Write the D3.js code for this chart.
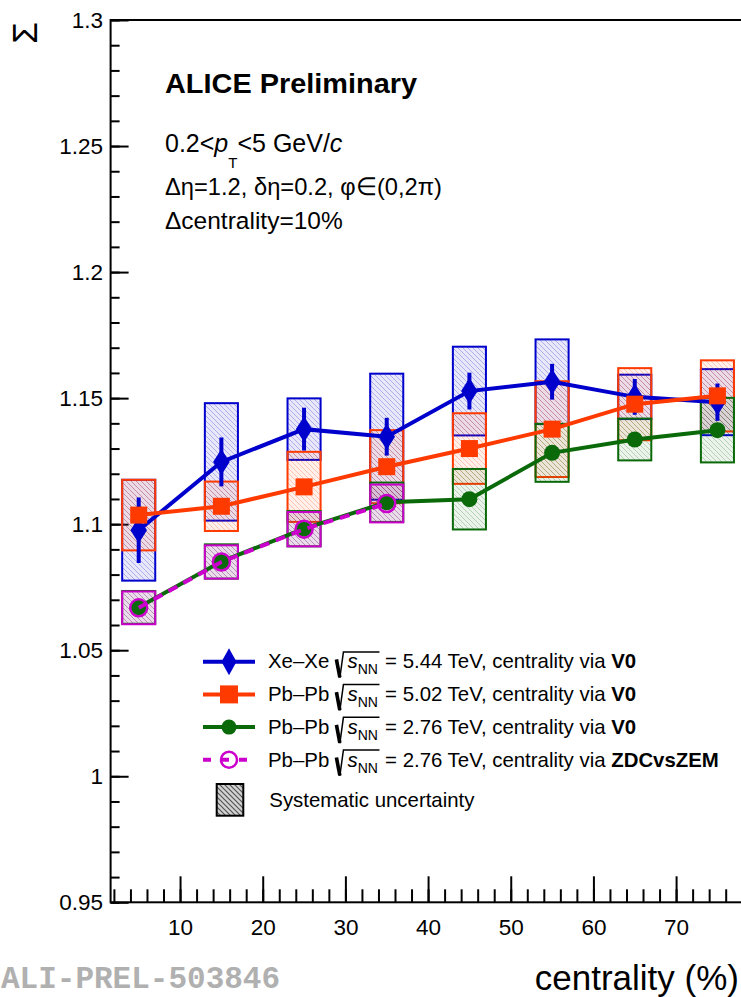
<!DOCTYPE html>
<html>
<head>
<meta charset="utf-8">
<script src="https://cdn.jsdelivr.net/npm/d3@7"></script>
<style>
  html, body { margin: 0; padding: 0; background: #fff; }
  svg { display: block; }
  text { font-family: "Liberation Sans", Arial, Helvetica, sans-serif; fill: #000; white-space: pre; }
</style>
</head>
<body>
<svg id="chart" width="741" height="997"></svg>
<script>
// Centrality bin centres (%)
const centrality = [5, 15, 25, 35, 45, 55, 65, 75];
const centralityZdc = [5, 15, 25, 35];

// Xe-Xe 5.44 TeV, V0 centrality
const xexeV0 = [1.0976, 1.1247, 1.1377, 1.1347, 1.1528, 1.1565, 1.1505, 1.1484];
const xexeV0Stat = [0.0130, 0.0097, 0.0085, 0.0075, 0.0073, 0.0071, 0.0071, 0.0074];
const xexeV0Sys = [0.0200, 0.0233, 0.0122, 0.0250, 0.0176, 0.0168, 0.0088, 0.0131];

// Pb-Pb 5.02 TeV, V0 centrality
const pbpb502V0 = [1.1036, 1.1071, 1.1148, 1.1228, 1.1300, 1.1377, 1.1476, 1.1509];
const pbpb502V0Sys = [0.0140, 0.0098, 0.0139, 0.0145, 0.0140, 0.0190, 0.0143, 0.0141];

// Pb-Pb 2.76 TeV, V0 centrality
const pbpb276V0 = [1.0670, 1.0852, 1.0982, 1.1087, 1.1099, 1.1283, 1.1336, 1.1373];
const pbpb276V0Sys = [0.0065, 0.0068, 0.0070, 0.0078, 0.0120, 0.0115, 0.0083, 0.0128];

// Pb-Pb 2.76 TeV, ZDC vs ZEM centrality
const pbpb276Zdc = [1.0668, 1.0850, 1.0980, 1.1082];
const pbpb276ZdcSys = [0.0065, 0.0066, 0.0068, 0.0075];

// Axis ticks
const yMajorTicks = [0.95, 1.0, 1.05, 1.1, 1.15, 1.2, 1.25, 1.3];
const yTickLabels = ["0.95", "1", "1.05", "1.1", "1.15", "1.2", "1.25", "1.3"];
const xMajorTicks = [10, 20, 30, 40, 50, 60, 70];
const xTickLabels = ["10", "20", "30", "40", "50", "60", "70"];

const colors = {
  xexe: "#0000cc",
  pb502: "#ff3a00",
  pb276: "#0a6a0a",
  zdc: "#cc00cc"
};

const svg = d3.select("#chart");
const frame = { left: 110.6, top: 20, bottom: 902.3, right: 762.9 };

const x = d3.scaleLinear().domain([1.6, 80.5]).range([frame.left, frame.right]);
const y = d3.scaleLinear().domain([0.95, 1.3]).range([frame.bottom, frame.top]);

// Hatch patterns for systematic boxes
const defs = svg.append("defs");
function hatch(id, color, bgOpacity, lineOpacity, lineWidth) {
  const p = defs.append("pattern")
    .attr("id", id).attr("patternUnits", "userSpaceOnUse")
    .attr("width", 5).attr("height", 5);
  p.append("rect").attr("width", 5).attr("height", 5)
    .attr("fill", color).attr("fill-opacity", bgOpacity);
  p.append("path").attr("d", "M0,0 L5,5 M-1,4 L1,6 M4,-1 L6,1")
    .attr("stroke", color).attr("stroke-opacity", lineOpacity)
    .attr("stroke-width", lineWidth);
}
hatch("h-xexe", colors.xexe, 0.09, 0.25, 1);
hatch("h-pb502", colors.pb502, 0.08, 0.25, 1);
hatch("h-pb276", colors.pb276, 0.08, 0.25, 1);
hatch("h-zdc", colors.zdc, 0.09, 0.25, 1);
hatch("h-grey", "#333", 0.22, 0.8, 1.2);

// Axes: ticks inside the frame
const axisG = svg.append("g");
const yMinor = d3.range(95, 131).map(v => v / 100);
const xMinor = d3.range(2, 81, 2);

axisG.append("g").attr("transform", `translate(${frame.left},0)`)
  .call(d3.axisLeft(y).tickValues(yMinor).tickSize(-9).tickFormat(""))
  .call(g => g.select(".domain").remove());
axisG.append("g").attr("transform", `translate(${frame.left},0)`)
  .call(d3.axisLeft(y).tickValues(yMajorTicks).tickSize(-18).tickPadding(7.5)
    .tickFormat((d, i) => yTickLabels[i]))
  .call(g => g.select(".domain").remove());
axisG.append("g").attr("transform", `translate(0,${frame.bottom})`)
  .call(d3.axisBottom(x).tickValues(xMinor).tickSize(-13).tickFormat(""))
  .call(g => g.select(".domain").remove());
axisG.append("g").attr("transform", `translate(0,${frame.bottom})`)
  .call(d3.axisBottom(x).tickValues(xMajorTicks).tickSize(-26).tickPadding(17)
    .tickFormat((d, i) => xTickLabels[i]))
  .call(g => g.select(".domain").remove());
axisG.append("line").attr("x1", x(80)).attr("x2", x(80))
  .attr("y1", frame.bottom).attr("y2", frame.bottom - 26);
axisG.selectAll("line").attr("stroke", "#000").attr("stroke-width", 2);
axisG.selectAll(".tick text")
  .style("font-family", '"Liberation Sans", Arial, sans-serif')
  .style("font-size", "22.5px").attr("fill", "#000");

// Systematic uncertainty boxes (±2 in centrality)
const plot = svg.append("g");
function sysBoxes(xs, vals, sys, color, pat) {
  plot.append("g").selectAll("rect").data(vals).join("rect")
    .attr("x", (d, i) => x(xs[i] - 2))
    .attr("width", (d, i) => x(xs[i] + 2) - x(xs[i] - 2))
    .attr("y", (d, i) => y(d + sys[i]))
    .attr("height", (d, i) => y(d - sys[i]) - y(d + sys[i]))
    .attr("fill", `url(#${pat})`)
    .attr("stroke", color).attr("stroke-width", 2);
}
sysBoxes(centrality, xexeV0, xexeV0Sys, colors.xexe, "h-xexe");
sysBoxes(centrality, pbpb502V0, pbpb502V0Sys, colors.pb502, "h-pb502");
sysBoxes(centrality, pbpb276V0, pbpb276V0Sys, colors.pb276, "h-pb276");
sysBoxes(centralityZdc, pbpb276Zdc, pbpb276ZdcSys, colors.zdc, "h-zdc");

const line = (xs) => d3.line().x((d, i) => x(xs[i])).y(d => y(d));
const diamondPath = "M0,-13 L8.3,0 L0,13 L-8.3,0 Z";

// Xe-Xe
plot.append("path").datum(xexeV0).attr("d", line(centrality))
  .attr("fill", "none").attr("stroke", colors.xexe).attr("stroke-width", 4);
plot.append("g").selectAll("line").data(xexeV0).join("line")
  .attr("x1", (d, i) => x(centrality[i])).attr("x2", (d, i) => x(centrality[i]))
  .attr("y1", (d, i) => y(d + xexeV0Stat[i])).attr("y2", (d, i) => y(d - xexeV0Stat[i]))
  .attr("stroke", colors.xexe).attr("stroke-width", 4);
plot.append("g").selectAll("path").data(xexeV0).join("path")
  .attr("d", diamondPath)
  .attr("transform", (d, i) => `translate(${x(centrality[i])},${y(d)})`)
  .attr("fill", colors.xexe);

// Pb-Pb 5.02
plot.append("path").datum(pbpb502V0).attr("d", line(centrality))
  .attr("fill", "none").attr("stroke", colors.pb502).attr("stroke-width", 4);
plot.append("g").selectAll("rect").data(pbpb502V0).join("rect")
  .attr("x", (d, i) => x(centrality[i]) - 8.5).attr("y", d => y(d) - 8.5)
  .attr("width", 17).attr("height", 17).attr("fill", colors.pb502);

// Pb-Pb 2.76 V0
plot.append("path").datum(pbpb276V0).attr("d", line(centrality))
  .attr("fill", "none").attr("stroke", colors.pb276).attr("stroke-width", 4);
plot.append("g").selectAll("circle").data(pbpb276V0).join("circle")
  .attr("cx", (d, i) => x(centrality[i])).attr("cy", d => y(d))
  .attr("r", 8).attr("fill", colors.pb276);

// Pb-Pb 2.76 ZDC vs ZEM
plot.append("path").datum(pbpb276Zdc).attr("d", line(centralityZdc))
  .attr("fill", "none").attr("stroke", colors.zdc).attr("stroke-width", 4)
  .attr("stroke-dasharray", "10,7");
plot.append("g").selectAll("circle").data(pbpb276Zdc).join("circle")
  .attr("cx", (d, i) => x(centralityZdc[i])).attr("cy", d => y(d))
  .attr("r", 8.5).attr("fill", "none").attr("stroke", colors.zdc).attr("stroke-width", 2.5);

// Frame
svg.append("rect")
  .attr("x", frame.left).attr("y", frame.top)
  .attr("width", frame.right - frame.left).attr("height", frame.bottom - frame.top)
  .attr("fill", "none").attr("stroke", "#000").attr("stroke-width", 2);

// Axis titles
svg.append("text").attr("transform", "translate(37,22) rotate(-90)")
  .attr("text-anchor", "end").style("font-size", "35px").text("Σ");
svg.append("text").attr("x", 739).attr("y", 990)
  .attr("text-anchor", "end").style("font-size", "35px").text("centrality (%)");

// Labels
svg.append("text").attr("x", 165).attr("y", 93.3)
  .style("font-size", "28px").style("font-weight", "bold")
  .attr("textLength", 252).attr("lengthAdjust", "spacingAndGlyphs")
  .text("ALICE Preliminary");

const l2 = svg.append("text").attr("x", 165).attr("y", 152).style("font-size", "25px");
l2.append("tspan").text("0.2<");
l2.append("tspan").style("font-style", "italic").text("p");
l2.append("tspan").attr("dy", 16).style("font-size", "15px").text("T");
l2.append("tspan").attr("dy", -16).text("<5 GeV/");
l2.append("tspan").style("font-style", "italic").text("c");

svg.append("text").attr("x", 165).attr("y", 194.5).style("font-size", "24.5px")
  .attr("textLength", 277).attr("lengthAdjust", "spacingAndGlyphs")
  .text("Δη=1.2, δη=0.2, φ∈(0,2π)");
svg.append("text").attr("x", 165).attr("y", 229).style("font-size", "24.5px")
  .text("Δcentrality=10%");

// Legend
const legend = svg.append("g");
const legendEntries = [
  { sys: "Xe–Xe", energy: "5.44", method: "V0", color: colors.xexe, marker: "diamond" },
  { sys: "Pb–Pb", energy: "5.02", method: "V0", color: colors.pb502, marker: "square" },
  { sys: "Pb–Pb", energy: "2.76", method: "V0", color: colors.pb276, marker: "circle" },
  { sys: "Pb–Pb", energy: "2.76", method: "ZDCvsZEM", color: colors.zdc, marker: "open" }
];
const lx0 = 203, lx1 = 255, lmx = 229, ltx = 268;
const lfs = "20.4px";
legendEntries.forEach((e, i) => {
  const cy = 661.7 + i * 32.7;
  const base = cy + 6.7;
  const ln = legend.append("line").attr("x1", lx0).attr("x2", lx1).attr("y1", cy).attr("y2", cy)
    .attr("stroke", e.color).attr("stroke-width", 4);
  if (e.marker === "open") ln.attr("stroke-dasharray", "8,10");
  if (e.marker === "diamond") {
    legend.append("path").attr("d", "M0,-13.5 L7.5,0 L0,13.5 L-7.5,0 Z")
      .attr("transform", `translate(${lmx},${cy})`).attr("fill", e.color);
  } else if (e.marker === "square") {
    legend.append("rect").attr("x", lmx - 9).attr("y", cy - 9).attr("width", 18).attr("height", 18)
      .attr("fill", e.color);
  } else if (e.marker === "circle") {
    legend.append("circle").attr("cx", lmx).attr("cy", cy).attr("r", 7.5).attr("fill", e.color);
  } else {
    legend.append("circle").attr("cx", lmx).attr("cy", cy).attr("r", 8)
      .attr("fill", "none").attr("stroke", e.color).attr("stroke-width", 2.5);
  }
  // "<sys> √s_NN = <E> TeV, centrality via <method>"
  const t1 = legend.append("text").attr("x", ltx).attr("y", base).style("font-size", lfs)
    .text(e.sys);
  const rx = ltx + t1.node().getComputedTextLength() + 6;
  const sx = rx + 12.3;
  const ts = legend.append("text").attr("x", sx).attr("y", base).style("font-size", lfs)
    .style("font-style", "italic").text("s");
  const nx = sx + ts.node().getComputedTextLength();
  const tn = legend.append("text").attr("x", nx).attr("y", base + 6).style("font-size", "14px").text("NN");
  const ox = nx + tn.node().getComputedTextLength() + 1.5;
  legend.append("path")
    .attr("d", `M${rx + 1.2},${base - 9} L${rx + 4.6},${base + 9}`)
    .attr("stroke", "#000").attr("stroke-width", 3.6).attr("fill", "none");
  legend.append("path")
    .attr("d", `M${rx + 4.6},${base + 9.5} L${rx + 8.2},${base - 16.5} L${ox},${base - 16.5}`)
    .attr("stroke", "#000").attr("stroke-width", 1.5).attr("fill", "none");
  const t3 = legend.append("text").attr("x", ox + 5.6).attr("y", base).style("font-size", lfs);
  t3.append("tspan").text(`= ${e.energy} TeV, centrality via `);
  t3.append("tspan").style("font-weight", "bold").text(e.method);
});
legend.append("rect").attr("x", 216.7).attr("y", 784).attr("width", 26.6).attr("height", 31.7)
  .attr("fill", "url(#h-grey)").attr("stroke", "#000").attr("stroke-width", 2);
legend.append("text").attr("x", 269.3).attr("y", 806.7).style("font-size", lfs)
  .text("Systematic uncertainty");

// Record identifier
svg.append("text").attr("x", 1).attr("y", 988)
  .style("font-family", '"Liberation Mono", "DejaVu Sans Mono", monospace')
  .style("font-size", "31px").style("font-weight", "bold")
  .style("fill", "#b0b0b0").text("ALI-PREL-503846");
</script>
</body>
</html>
